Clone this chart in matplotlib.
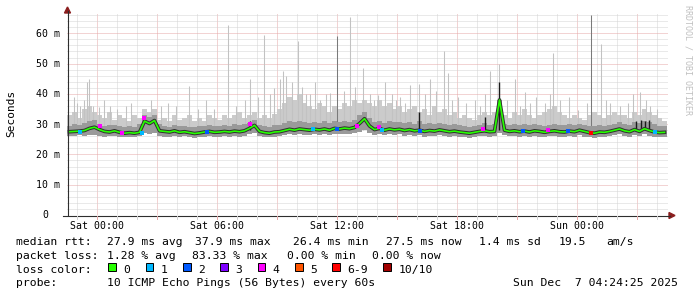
import matplotlib
matplotlib.use("Agg")
import matplotlib.pyplot as plt
import matplotlib.transforms as mtransforms
from matplotlib.patches import Polygon, Rectangle
from matplotlib.lines import Line2D
import numpy as np

# ---------------- data ----------------
# 15-minute bins, hours relative to Sat 00:00, starting at Fri 22:30
bin_hours = np.arange(120) * 0.25 - 1.5

median_ms = [27.5, 27.6, 27.7, 27.9, 28.6, 29.0, 28.2, 27.6, 27.4, 27.8,
             27.3, 27.0, 27.2, 27.0, 27.3, 31.0, 30.2, 31.2, 27.8, 27.6,
             27.4, 27.8, 27.3, 27.5, 27.2, 26.9, 27.1, 27.4, 27.6, 27.3,
             27.4, 27.6, 27.4, 27.7, 27.5, 27.8, 28.6, 29.6, 27.6, 27.2,
             27.0, 27.4, 27.5, 27.9, 28.3, 28.0, 28.4, 28.2, 28.0, 28.3,
             28.1, 28.4, 28.0, 28.6, 28.4, 28.7, 28.5, 28.9, 30.2, 31.8,
             29.4, 28.2, 28.6, 28.0, 28.4, 28.1, 28.3, 27.9, 28.2, 27.8,
             28.0, 27.6, 27.9, 27.7, 28.1, 27.8, 27.5, 27.7, 27.4, 27.2,
             27.0, 27.3, 27.6, 27.8, 27.5, 27.6, 38.0, 28.0, 27.6, 27.8,
             27.5, 27.7, 27.4, 27.8, 27.6, 27.3, 27.6, 27.8, 27.5, 27.4,
             27.7, 27.5, 28.0, 27.6, 27.2, 27.0, 27.4, 27.3, 27.6, 28.0,
             28.4, 27.8, 27.5, 28.2, 27.6, 28.5, 27.9, 27.4, 27.2, 27.3]

smoke_low_ms = [26.2, 26.0, 26.3, 26.1, 26.4, 26.5, 26.2, 25.9, 26.0, 26.2,
                25.8, 25.7, 25.9, 25.8, 26.0, 27.0, 26.8, 27.0, 26.1, 25.9,
                25.8, 26.1, 25.8, 26.0, 25.7, 25.5, 25.7, 25.9, 26.0, 25.8,
                25.9, 26.0, 25.8, 26.1, 25.9, 26.2, 26.6, 27.0, 26.0, 25.7,
                25.6, 25.9, 26.0, 26.3, 26.6, 26.4, 26.7, 26.5, 26.3, 26.6,
                26.4, 26.7, 26.3, 26.8, 26.6, 26.9, 26.7, 27.0, 27.5, 28.0,
                27.2, 26.5, 26.8, 26.3, 26.7, 26.4, 26.6, 26.2, 26.5, 26.1,
                26.3, 25.9, 26.2, 26.0, 26.4, 26.1, 25.9, 26.0, 25.8, 25.6,
                25.5, 25.8, 26.0, 26.2, 25.9, 26.0, 27.0, 26.3, 26.0, 26.1,
                25.9, 26.0, 25.8, 26.1, 25.9, 25.7, 26.0, 26.1, 25.9, 25.8,
                26.0, 25.9, 26.3, 25.9, 25.6, 25.4, 25.8, 25.7, 26.0, 26.3,
                26.6, 26.1, 25.9, 26.5, 26.0, 26.7, 26.2, 25.8, 25.6, 25.7]

smoke_mid_ms = [29.5, 30.0, 29.6, 30.5, 31.0, 31.5, 30.0, 29.5, 29.8, 29.6,
                29.3, 29.0, 29.4, 29.2, 30.0, 33.0, 32.5, 33.0, 30.0, 29.5,
                29.2, 29.8, 29.3, 29.5, 29.2, 29.0, 29.3, 29.4, 29.6, 29.3,
                29.4, 29.8, 29.5, 29.9, 29.6, 30.0, 30.5, 31.5, 29.8, 29.4,
                29.2, 29.6, 29.8, 30.4, 31.0, 30.6, 31.2, 30.8, 30.4, 30.6,
                30.5, 31.0, 30.4, 31.2, 30.8, 31.0, 30.8, 31.5, 33.0, 34.0,
                32.0, 30.8, 31.2, 30.5, 31.0, 30.6, 30.8, 30.3, 30.6, 30.2,
                31.0, 30.0, 30.4, 30.1, 30.5, 30.2, 29.8, 30.0, 29.6, 29.4,
                29.2, 29.5, 29.8, 30.4, 29.8, 30.0, 38.0, 30.2, 29.8, 30.0,
                29.7, 30.0, 29.6, 30.0, 29.8, 29.5, 29.8, 30.2, 29.7, 29.6,
                29.9, 29.7, 30.2, 29.8, 29.4, 29.4, 29.6, 29.5, 29.8, 30.2,
                30.6, 30.0, 29.7, 30.8, 30.5, 31.0, 30.8, 30.2, 29.4, 29.5]

smoke_high_ms = [33, 34, 32, 35, 36, 34, 33, 32, 34, 31.5,
                 33, 32, 31, 33, 32, 35, 34, 35, 31.5, 32,
                 31, 33, 31.5, 32, 33, 31, 32, 31, 33, 32,
                 31.5, 33, 32, 33, 34, 32, 33, 34, 32, 33,
                 32, 33.5, 35, 37, 39, 38, 40, 37, 36, 35,
                 37, 36, 34, 36, 35, 37, 36, 38, 37, 38,
                 37, 36, 38, 36, 37, 35, 36, 34, 35, 36,
                 34, 35, 33, 36, 34, 35, 33, 34, 32, 33,
                 32, 31.5, 33, 34, 33, 34, 38, 33, 32, 34,
                 33, 35, 33, 32, 33, 34, 35, 36, 34, 33,
                 32, 33, 32, 31.5, 33, 34, 33, 32, 33, 34,
                 33, 33, 32, 34, 33, 35, 34, 33, 32, 31]

# isolated high pings (light smoke spikes)
spike_hours = [-1.15, -1.0, -0.85, -0.65, -0.5, -0.4, -0.2, 0.1, 0.35, 0.65,
               1.0, 1.45, 1.7, 2.7, 3.2, 3.55, 3.95, 4.6, 5.05, 5.45,
               5.85, 6.55, 6.95, 7.4, 7.65, 8.05, 8.35, 8.65, 8.85, 9.15,
               9.3, 9.45, 9.75, 10.05, 10.25, 10.45, 10.65, 10.9, 11.15, 11.45,
               11.65, 12.35, 12.65, 12.9, 13.3, 13.65, 13.85, 14.05, 14.4, 14.75,
               14.95, 15.15, 15.4, 15.65, 16.1, 16.4, 16.65, 16.95, 17.35, 17.55,
               17.75, 18.05, 18.45, 18.9, 19.15, 19.4, 19.65, 20.1, 20.5, 20.9,
               21.15, 21.4, 21.65, 21.95, 22.4, 22.65, 22.8, 23.15, 23.6, 24.05,
               24.5, 25.2, 25.45, 25.65, 26.15, 26.55, 26.8, 27.15, 27.45, 27.65,
               28.0]
spike_tops_ms = [39, 37, 36, 38, 44, 45, 36, 35.6, 38, 36,
                 35, 36, 37, 38, 36, 37, 36, 42.6, 35, 38,
                 35, 62.7, 36, 38, 45, 39, 59.4, 40, 42, 45,
                 47.4, 45.8, 44, 57.3, 42.3, 40, 40, 44, 38, 40,
                 40.4, 41, 65.4, 42.3, 48.5, 40, 38, 39.6, 44, 40,
                 38, 39, 37, 43, 43.2, 40, 45, 41, 54, 47,
                 38, 39, 37, 38, 36, 40, 47.5, 50, 38, 45,
                 36, 40.7, 37, 39, 37, 40, 53.6, 38, 39, 34.7,
                 37, 56.6, 38, 37, 36, 37, 40, 40.7, 38, 36,
                 35]

# spikes where several pings were high (darker grey)
grey_spike_hours = [12.0, 24.7]
grey_spike_tops_ms = [59, 66]

# near-black columns of dense smoke
black_spike_hours = [7.65, 16.1, 19.4, 20.1, 26.95, 27.2, 27.4, 27.6]
black_spike_tops_ms = [31, 34, 32.4, 44, 31, 31.5, 31, 31.3]

# median points drawn in loss colours (hour, ms, loss class index)
loss_hours = [-0.85, 0.15, 1.25, 2.25, 2.35, 5.5, 7.65, 10.8, 12.0, 13.0,
              14.1, 14.25, 16.15, 19.3, 21.3, 22.55, 23.55, 24.7, 27.9]
loss_ms = [27.5, 29.5, 27.0, 27.2, 32.0, 27.4, 30.0, 28.3, 28.4, 29.5,
           29.0, 28.0, 27.6, 28.5, 27.6, 28.2, 27.7, 27.2, 27.3]
loss_class = [1, 4, 4, 1, 4, 2, 4, 1, 2, 4,
              4, 1, 2, 4, 2, 4, 2, 6, 1]

loss_labels = ["0", "1", "2", "3", "4", "5", "6-9", "10/10"]
loss_colors = ["#26ff00", "#00b8ff", "#0059ff", "#7e00ff",
               "#ff00ff", "#ff5500", "#ff0000", "#a10000"]

ytick_values = [0, 10, 20, 30, 40, 50, 60]
ytick_labels = ["0", "10 m", "20 m", "30 m", "40 m", "50 m", "60 m"]
xtick_hours = [0, 6, 12, 18, 24]
xtick_labels = ["Sat 00:00", "Sat 06:00", "Sat 12:00", "Sat 18:00", "Sun 00:00"]

stats_rtt = [("median rtt:", 16), ("27.9 ms avg", 107.3), ("37.9 ms max", 195),
             ("26.4 ms min", 293.3), ("27.5 ms now", 386), ("1.4 ms sd", 479.3),
             ("19.5", 558.3), ("am/s", 606.7)]
stats_loss = [("packet loss:", 16), ("1.28 % avg", 107.3), ("83.33 % max", 192),
              ("0.00 % min", 287), ("0.00 % now", 372.3)]
probe_line = [("probe:", 16), ("10 ICMP Echo Pings (56 Bytes) every 60s", 107.3),
              ("Sun Dec  7 04:24:25 2025", 513.3)]

# ---------------- figure ----------------
W, H = 697, 297
fig = plt.figure(figsize=(W / 100, H / 100), dpi=100)
fig.patch.set_facecolor("white")

X0, X1, YB, YT = 67, 668, 215, 13
ax = fig.add_axes([X0 / W, 1 - YB / H, (X1 - X0) / W, (YB - YT) / H])
ax.set_xlim(-1.5, 28.55)
ax.set_ylim(0, 66.7)
ax.set_axis_off()

def fx(px):
    return px / W

def fy(py):
    return 1 - py / H

MONO = "DejaVu Sans Mono"
MINOR = "#d4d4d4"
MAJOR = "#e6a8a8"
dot = (0, (1, 1))

# grid
for h in np.arange(-1, 29):
    ax.axvline(h, color=MAJOR if h % 3 == 0 else MINOR, lw=0.72, ls=dot, zorder=0)
for v in np.arange(2, 67, 2):
    ax.axhline(v, color=MAJOR if v % 10 == 0 else MINOR, lw=0.72, ls=dot, zorder=0)

# smoke
t = np.asarray(bin_hours)
xs = np.repeat(np.append(t, t[-1] + 0.25), 2)[1:-1]
rep = lambda a: np.repeat(np.asarray(a, float), 2)
ax.fill_between(xs, rep(smoke_low_ms), rep(smoke_high_ms), color="#cbcbcb", lw=0, zorder=1)
ax.vlines(spike_hours, 28, spike_tops_ms, color="#c2c2c2", lw=0.75, zorder=1)
ax.vlines(grey_spike_hours, 28, grey_spike_tops_ms, color="#7a7a7a", lw=0.75, zorder=2)
ax.fill_between(xs, rep(smoke_low_ms), rep(smoke_mid_ms), color="#9a9a9a", lw=0, zorder=2)
ax.vlines(black_spike_hours, 28, black_spike_tops_ms, color="#1a1a1a", lw=1.0, zorder=3)

# median
tc = t + 0.125
ax.plot(tc, median_ms, color="#303030", lw=2.6, zorder=3)
ax.plot(tc, median_ms, color=loss_colors[0], lw=1.2, zorder=4)
for h, v, c in zip(loss_hours, loss_ms, loss_class):
    ax.plot([h], [v], marker="s", ms=2.6, mew=0, color=loss_colors[c], zorder=5)

# axes lines and arrows
AX = "#2e2e2e"
ARROW = "#8b1e1e"
fig.add_artist(Line2D([fx(67.5), fx(67.5)], [fy(215), fy(11)], color=AX, lw=0.8))
fig.add_artist(Line2D([fx(63), fx(670)], [fy(215.5), fy(215.5)], color=AX, lw=0.8))
fig.add_artist(Polygon([[fx(64.5), fy(13)], [fx(70.5), fy(13)], [fx(67.5), fy(7)]],
                       closed=True, color=ARROW, transform=fig.transFigure))
fig.add_artist(Polygon([[fx(669), fy(212.5)], [fx(669), fy(218.5)], [fx(675), fy(215.5)]],
                       closed=True, color=ARROW, transform=fig.transFigure))
# tick marks below x axis
for h in np.arange(-1, 29):
    xp = ax.transData.transform((h, 0))[0]
    fig.add_artist(Line2D([xp / W, xp / W], [fy(216), fy(218.5)],
                          color=MAJOR if h % 3 == 0 else MINOR, lw=0.72))

# y tick labels
ytr = mtransforms.blended_transform_factory(fig.transFigure, ax.transData) + \
    mtransforms.ScaledTranslation(0, -3.4 / 100, fig.dpi_scale_trans)
for v, lab in zip(ytick_values, ytick_labels):
    right = 60 if lab.endswith(" m") else 60 - 2 * 5.94
    ax.text(fx(right), v, lab, transform=ytr, ha="right", va="baseline",
            fontsize=7.1, family=MONO, color="black")

# x tick labels
xtr = mtransforms.blended_transform_factory(ax.transData, fig.transFigure)
for h, lab in zip(xtick_hours, xtick_labels):
    ax.text(h, fy(229.3), lab, transform=xtr, ha="center", va="baseline",
            fontsize=7.1, family=MONO, color="black")

# axis title and watermark
fig.text(fx(11), fy(113.5), "Seconds", rotation=90, ha="center", va="center",
         fontsize=8.0, family=MONO, color="black")
fig.text(fx(688), fy(5), "RRDTOOL / TOBI OETIKER", rotation=270, ha="center", va="top",
         fontsize=6.0, family=MONO, color="#c0c0c0")

# legend / statistics
FS = 8.2
for s, x in stats_rtt:
    fig.text(fx(x), fy(244.7), s, fontsize=FS, family=MONO, va="baseline")
for s, x in stats_loss:
    fig.text(fx(x), fy(258.7), s, fontsize=FS, family=MONO, va="baseline")
fig.text(fx(16), fy(272.7), "loss color:", fontsize=FS, family=MONO, va="baseline")
bx = 108.3
cw = 6.85
for lab, col in zip(loss_labels, loss_colors):
    fig.add_artist(Rectangle((fx(bx), fy(270.5)), 7.5 / W, 7.7 / H, facecolor=col,
                             edgecolor="black", lw=0.7, transform=fig.transFigure))
    fig.text(fx(bx + 15), fy(272.7), lab, fontsize=FS, family=MONO, va="baseline")
    bx = bx + 15 + len(lab) * cw + 15.5
for s, x in probe_line:
    fig.text(fx(x), fy(286.5), s, fontsize=FS, family=MONO, va="baseline")

fig.savefig("out.png", dpi=100, facecolor="white")
